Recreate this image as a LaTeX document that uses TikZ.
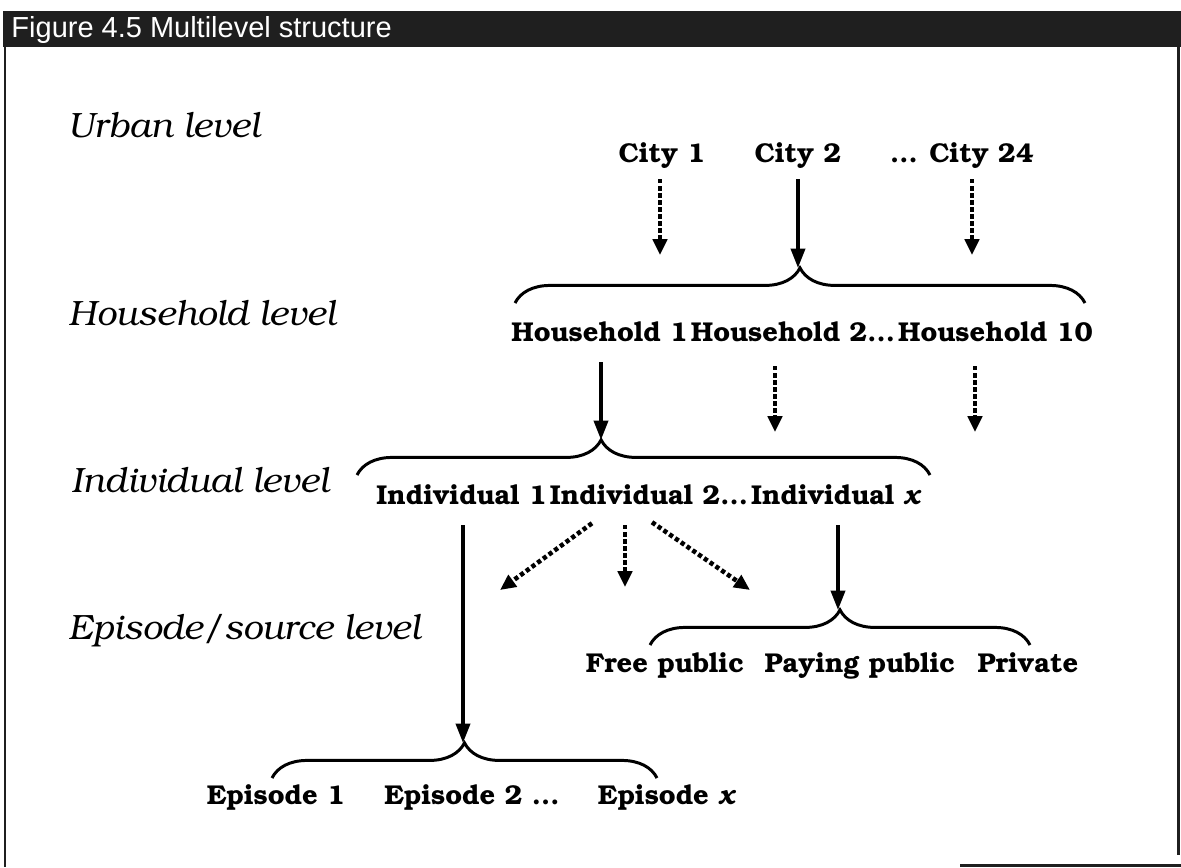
\documentclass[tikz,border=0pt]{standalone}
\usepackage{fontspec}
\usepackage[T1,TU]{fontenc}
\usepackage{tikz}
\usetikzlibrary{arrows.meta, decorations.pathreplacing}
\newfontfamily\titlefont{Liberation Sans}
\newcommand{\bkfont}{\fontencoding{T1}\fontfamily{pbk}\selectfont}

\begin{document}
\begin{tikzpicture}[x=0.02cm, y=-0.02cm, line width=1.7pt,
    levelname/.style={anchor=west, inner sep=0pt, font={\bkfont\itshape\fontsize{20}{24}\selectfont}},
    item/.style={inner sep=0pt, text height=1.6ex, text depth=0.45ex, font={\bkfont\bfseries\fontsize{15.5}{18}\selectfont}},
    solidarrow/.style={line width=2pt, -{Triangle[length=11pt, width=8pt]}},
    dotarrow/.style={line width=2.6pt, dash pattern=on 2.4pt off 1.6pt, -{Triangle[length=9pt, width=8pt]}},
    curly/.style={decorate, decoration={brace, amplitude=20pt, aspect=#1}},
    curly/.default=0.5]
    \useasboundingbox (0,0) rectangle (1181,867);
    \fill[white] (0,0) rectangle (1181,867);

    % title bar and frame
    \fill[black!88] (3,11) rectangle (1181,47);
    \node[anchor=west, white, inner sep=0pt, font={\titlefont\fontsize{16.5}{19}\selectfont}] (title) at (10,30) {Figure 4.5 Multilevel structure};
    \draw[black!88] (5,47) -- (5,867);
    \draw[black!88] (1178,47) -- (1178,855);
    \draw[black!88] (960,865) -- (1181,865);

    % levels
    \node[levelname] (urban) at (67,125) {Urban level};
    \node[levelname] (household) at (67,313) {Household level};
    \node[levelname] (individual) at (70,480) {Individual level};
    \node[levelname] (episode) at (67,630) {Episode/source level};

    % cities
    \node[item] (city1) at (662,158) {City 1};
    \node[item] (city2) at (798,158) {City 2};
    \node[item] (city24) at (962,158) {... City 24};
    \coordinate (b1l) at (515,303);
    \coordinate (b1r) at (1085,303);
    \coordinate (b1t) at (798,268);
    \coordinate (c1end) at (660,255);
    \coordinate (c24end) at (972,255);
    \draw[dotarrow] (city1.south -| c1end) ++(0,12) -- (c1end);
    \draw[solidarrow] (city2.south) ++(0,12) -- (b1t);
    \draw[dotarrow] (city24.south -| c24end) ++(0,12) -- (c24end);
    \draw[curly] (b1l) -- (b1r);

    % households
    \node[item, anchor=west] (hh1) at (510,337) {Household 1};
    \node[item, anchor=west] (hh2) at (hh1.east) {Household 2...};
    \node[item, anchor=west] (hh10) at (hh2.east) {Household 10};
    \coordinate (b2l) at (357,475);
    \coordinate (b2r) at (930,475);
    \coordinate (b2t) at (601,440);
    \coordinate (h2end) at (775,432);
    \coordinate (h10end) at (975,432);
    \draw[solidarrow] (hh1.south -| b2t) ++(0,16) -- (b2t);
    \draw[dotarrow] (hh2.south -| h2end) ++(0,20) -- (h2end);
    \draw[dotarrow] (hh10.south -| h10end) ++(0,20) -- (h10end);
    \draw[curly=0.426] (b2l) -- (b2r);

    % individuals
    \node[item, anchor=west] (ind1) at (375,500) {Individual 1};
    \node[item, anchor=west] (ind2) at (ind1.east) {Individual 2...};
    \node[item, anchor=west] (indx) at (ind2.east) {Individual \textit{x}};
    \coordinate (b3l) at (650,645);
    \coordinate (b3r) at (1030,645);
    \coordinate (b3t) at (838,610);
    \coordinate (b4l) at (272,778);
    \coordinate (b4r) at (657,778);
    \coordinate (b4t) at (463,743);
    \coordinate (dleft) at (500,590);
    \coordinate (dmid) at (625,587);
    \coordinate (dright) at (750,590);
    \draw[solidarrow] (ind1.south -| b4t) ++(0,16) -- (b4t);
    \draw[dotarrow] (ind2.south -| 592,0) ++(0,14) -- (dleft);
    \draw[dotarrow] (ind2.south -| dmid) ++(0,16) -- (dmid);
    \draw[dotarrow] (ind2.south -| 652,0) ++(0,13) -- (dright);
    \draw[solidarrow] (indx.south -| b3t) ++(0,16) -- (b3t);
    \draw[curly] (b3l) -- (b3r);
    \draw[curly] (b4l) -- (b4r);

    % sources
    \node[item] (free) at (665,668) {Free public};
    \node[item] (paying) at (860,668) {Paying public};
    \node[item] (private) at (1028,668) {Private};

    % episodes
    \node[item] (ep1) at (276,800) {Episode 1};
    \node[item] (ep2) at (472,800) {Episode 2 ...};
    \node[item] (epx) at (667,800) {Episode \textit{x}};
\end{tikzpicture}
\end{document}
